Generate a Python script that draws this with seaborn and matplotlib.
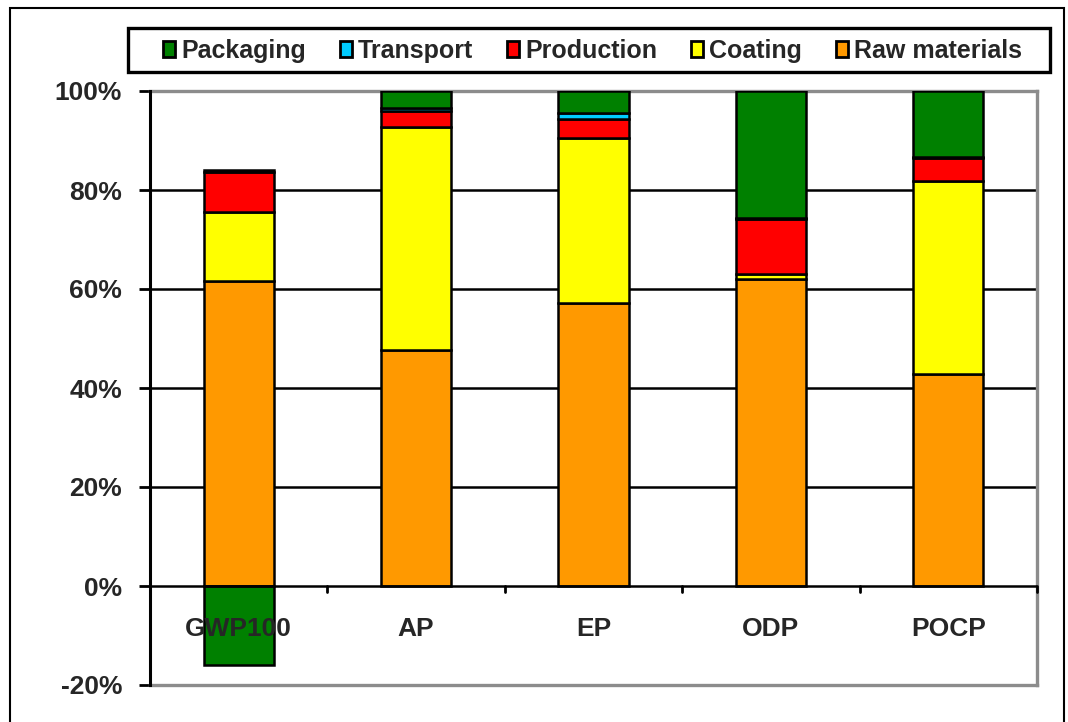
import matplotlib
matplotlib.use("Agg")
import matplotlib.pyplot as plt
import matplotlib.patches as mpatches
import numpy as np
import pandas as pd
import seaborn as sns

categories = ["GWP100", "AP", "EP", "ODP", "POCP"]
raw_materials = [61.7, 47.7, 57.2, 62.0, 42.8]
coating = [13.9, 45.0, 33.3, 1.0, 39.0]
production = [8.1, 3.3, 3.8, 11.1, 4.7]
transport = [0.3, 0.6, 1.3, 0.2, 0.2]
packaging = [-16.0, 3.4, 4.4, 25.7, 13.3]
y_ticks = [-20, 0, 20, 40, 60, 80, 100]
y_tick_labels = ["-20%", "0%", "20%", "40%", "60%", "80%", "100%"]

series_names = ["Raw materials", "Coating", "Production", "Transport", "Packaging"]
series_vals = [raw_materials, coating, production, transport, packaging]
colors = {"Raw materials": "#FF9900", "Coating": "#FFFF00", "Production": "#FF0000",
          "Transport": "#00CCFF", "Packaging": "#008000"}

sns.set_theme(style="white")
plt.rcParams['font.family'] = ['Liberation Sans', 'DejaVu Sans']
plt.rcParams['font.weight'] = 'bold'

W, H = 1068, 722
fig = plt.figure(figsize=(W / 100, H / 100), dpi=100)
ax = fig.add_axes([150 / W, 1 - 685 / H, (1037 - 150) / W, (685 - 91) / H])

bar_w = 0.395
cum = np.zeros(len(categories))
for name, vals in zip(series_names, series_vals):
    vals = np.array(vals, dtype=float)
    bottoms = np.where(vals >= 0, cum, 0.0)
    df = pd.DataFrame({"cat": categories, "val": vals})
    sns.barplot(data=df, x="cat", y="val", order=categories, color=colors[name],
                width=bar_w, bottom=bottoms, edgecolor="black", linewidth=1.8,
                saturation=1, ax=ax, zorder=3)
    cum = cum + np.where(vals >= 0, vals, 0.0)

ax.set_xlim(-0.5, len(categories) - 0.5)
ax.set_ylim(-20, 100)

# gridlines
for yv in [20, 40, 60, 80]:
    ax.axhline(yv, color="black", lw=1.8, zorder=1)
ax.axhline(0, color="black", lw=1.8, zorder=4)

for s in ["top", "right", "bottom"]:
    ax.spines[s].set_color("#8c8c8c")
    ax.spines[s].set_linewidth(2.4)
ax.spines["left"].set_color("black")
ax.spines["left"].set_linewidth(2.2)
ax.spines["left"].set_zorder(5)

ax.set_yticks(y_ticks)
ax.set_yticklabels(y_tick_labels, fontsize=19, fontweight="bold")
ax.tick_params(axis="y", direction="out", length=8, width=2.0, color="black", pad=12, left=True)
ax.set_xticks([])
ax.set_xlabel("")
ax.set_ylabel("")

# category boundary ticks on the zero line
for xb in np.arange(0.5, len(categories), 1.0):
    ax.plot([xb, xb], [0, -1.3], color="black", lw=2.0, zorder=4, clip_on=False)

for i, c in enumerate(categories):
    ax.text(i, -8.6, c, ha="center", va="center", fontsize=19, fontweight="bold", zorder=6)

# legend box
fig.patches.append(mpatches.Rectangle((128 / W, 1 - 72 / H), (1050 - 128) / W, 44 / H,
                                      transform=fig.transFigure, facecolor="white",
                                      edgecolor="black", linewidth=2.4, zorder=1))
leg_order = ["Packaging", "Transport", "Production", "Coating", "Raw materials"]
handles = [mpatches.Patch(facecolor=colors[n], edgecolor="black", linewidth=2.0) for n in leg_order]
leg = fig.legend(handles, leg_order, loc="center",
                 bbox_to_anchor=(163 / W, 1 - 67 / H, (1022 - 163) / W, 32 / H),
                 mode="expand", ncol=5, frameon=False,
                 prop={"weight": "bold", "size": 18}, handlelength=0.48, handleheight=0.58,
                 handletextpad=0.25, columnspacing=0.5, borderaxespad=0, borderpad=0)
leg.set_zorder(3)

# outer border
fig.patches.append(mpatches.Rectangle((10 / W, -0.05), (1064 - 10) / W, 1 - 8 / H + 0.05,
                                      transform=fig.transFigure, fill=False,
                                      edgecolor="black", linewidth=1.5))

fig.savefig("out.png", dpi=100)
